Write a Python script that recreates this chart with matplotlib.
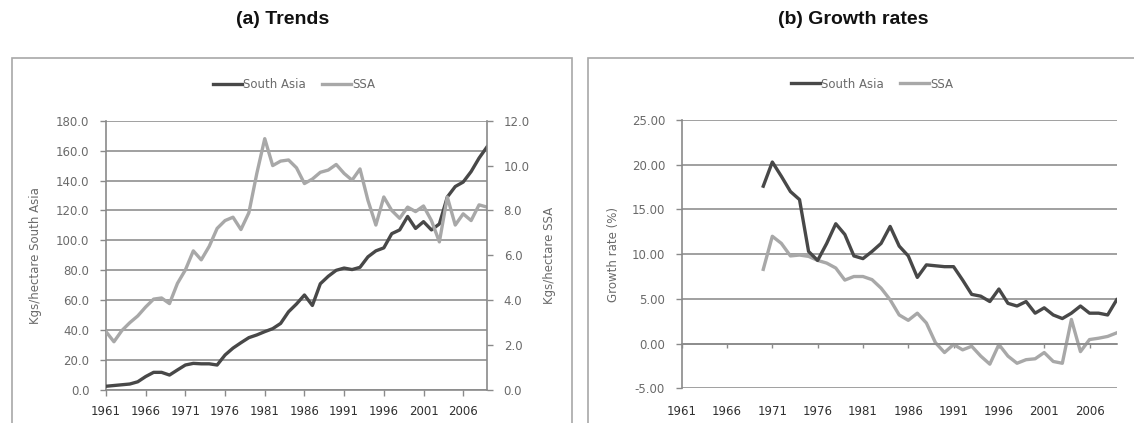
import numpy as np
import matplotlib

matplotlib.use("Agg")
import matplotlib.pyplot as plt
from matplotlib.patches import Rectangle
from matplotlib.ticker import FormatStrFormatter, MultipleLocator

# fertiliser use, kg per hectare
years = np.arange(1961, 2010)
south_asia_kgs = [
    2.5, 3.0, 3.5, 4.0, 5.5, 9.0, 11.8, 11.8, 10.0, 13.4,
    16.7, 17.8, 17.5, 17.5, 16.7, 23.4, 28.0, 31.6, 35.0, 36.8,
    39.0, 41.0, 44.5, 52.3, 57.5, 63.5, 56.5, 71.0, 76.0, 80.0,
    81.5, 80.5, 82.0, 89.0, 93.0, 95.0, 104.5, 107.0, 116.0, 108.0,
    112.5, 107.0, 111.0, 129.0, 136.0, 139.0, 146.0, 155.0, 162.5,
]
ssa_kgs = [
    2.6, 2.15, 2.65, 3.0, 3.3, 3.7, 4.05, 4.1, 3.85, 4.75,
    5.35, 6.2, 5.8, 6.4, 7.2, 7.55, 7.7, 7.15, 7.9, 9.65,
    11.2, 10.0, 10.2, 10.25, 9.9, 9.2, 9.4, 9.7, 9.8, 10.05,
    9.65, 9.35, 9.85, 8.45, 7.35, 8.6, 8.0, 7.65, 8.15, 7.95,
    8.2, 7.55, 6.6, 8.6, 7.35, 7.85, 7.55, 8.25, 8.15,
]

# growth rates (%), first available 1970
growth_years = np.arange(1970, 2010)
south_asia_growth = [
    17.6, 20.3, 18.7, 17.0, 16.1, 10.3, 9.3, 11.2, 13.4, 12.2,
    9.8, 9.5, 10.3, 11.2, 13.1, 10.9, 9.8, 7.4, 8.8, 8.7,
    8.6, 8.6, 7.1, 5.5, 5.3, 4.7, 6.1, 4.5, 4.2, 4.7,
    3.4, 4.0, 3.2, 2.8, 3.4, 4.2, 3.4, 3.4, 3.2, 4.9,
]
ssa_growth = [
    8.3, 12.0, 11.2, 9.8, 9.9, 9.75, 9.3, 9.0, 8.45, 7.1,
    7.5, 7.5, 7.15, 6.2, 4.9, 3.2, 2.6, 3.4, 2.3, 0.1,
    -1.0, -0.1, -0.7, -0.3, -1.4, -2.3, -0.1, -1.4, -2.2, -1.8,
    -1.7, -1.0, -2.0, -2.2, 2.7, -0.9, 0.45, 0.6, 0.8, 1.2,
]

year_ticks = np.arange(1961, 2010, 5)

DARK = "#484848"
LIGHT = "#a8a8a8"
GRID = "#a0a0a0"
TEXT = "#6a6a6a"
YEAR_TEXT = "#303030"
LW = 2.4
FS = 8.5

plt.rcParams["font.family"] = ["DejaVu Sans"]
plt.rcParams["font.size"] = FS

fig = plt.figure(figsize=(11.34, 4.23), dpi=100)
W, H = 1134, 423


def px_box(x0, y0, x1, y1):
    return [x0 / W, 1 - y1 / H, (x1 - x0) / W, (y1 - y0) / H]


# panel frames
for x0, x1 in [(12, 572), (588, 1160)]:
    fig.patches.append(Rectangle((x0 / W, -0.1), (x1 - x0) / W, 1 - 58 / H + 0.1,
                                 transform=fig.transFigure, fill=False,
                                 edgecolor="#a8a8a8", linewidth=1.2))

title_font = dict(family=["Liberation Sans Narrow", "Liberation Sans"], weight="bold",
                  size=14, color="#111111")
fig.text(283 / W, 1 - 19 / H, "(a) Trends", ha="center", va="center", **title_font)
fig.text(853 / W, 1 - 19 / H, "(b) Growth rates", ha="center", va="center", **title_font)


def style_axis(ax):
    ax.tick_params(colors="#8a8a8a", labelcolor=TEXT, width=1, length=4)
    ax.tick_params(axis="x", labelcolor=YEAR_TEXT)
    for side in ["top", "right"]:
        ax.spines[side].set_visible(False)
    for side in ["left", "bottom"]:
        ax.spines[side].set_color("#8a8a8a")
        ax.spines[side].set_linewidth(1.2)
    ax.set_xticks(year_ticks)
    ax.set_xticklabels([str(y) for y in year_ticks])
    ax.grid(axis="y", color=GRID, linewidth=1.4)
    ax.set_axisbelow(True)


# (a) trends
ax1 = fig.add_axes(px_box(106, 120.7, 487, 390))
style_axis(ax1)
ax1.plot(years, south_asia_kgs, color=DARK, linewidth=LW, label="South Asia",
         solid_joinstyle="round", zorder=3)
ax1.set_xlim(1961, 2009)
ax1.set_ylim(0, 180)
ax1.yaxis.set_major_locator(MultipleLocator(20))
ax1.yaxis.set_major_formatter(FormatStrFormatter("%.1f"))
ax1.tick_params(axis="y", pad=8)
ax1.tick_params(axis="x", pad=7)
ax1.set_ylabel("Kgs/hectare South Asia", color=TEXT)
ax1.yaxis.set_label_coords(-0.168, 0.5)

ax1r = ax1.twinx()
ax1r.plot(years, ssa_kgs, color=LIGHT, linewidth=LW, label="SSA",
          solid_joinstyle="round", zorder=2)
ax1r.set_ylim(0, 12)
ax1r.yaxis.set_major_locator(MultipleLocator(2))
ax1r.yaxis.set_major_formatter(FormatStrFormatter("%.1f"))
for side in ["top", "left", "bottom"]:
    ax1r.spines[side].set_visible(False)
ax1r.spines["right"].set_color("#8a8a8a")
ax1r.spines["right"].set_linewidth(1.2)
ax1r.tick_params(colors="#8a8a8a", labelcolor=TEXT, width=1, length=4, pad=8)
ax1r.set_ylabel("Kgs/hectare SSA", color=TEXT)
ax1r.yaxis.set_label_coords(1.147, 0.5)

h1, l1 = ax1.get_legend_handles_labels()
h2, l2 = ax1r.get_legend_handles_labels()
fig.legend(h1 + h2, l1 + l2, loc="center", bbox_to_anchor=(294 / W, 1 - 85 / H),
           ncol=2, frameon=False, handlelength=2.5, handletextpad=0.1,
           columnspacing=1.3, labelcolor=TEXT, fontsize=FS)

# (b) growth rates
ax2 = fig.add_axes(px_box(681.7, 120, 1116.7, 388.3))
# category axis crosses at zero, labels stay at the bottom
ax2.spines["bottom"].set_position(("data", 0))
style_axis(ax2)
ax2.plot(growth_years, south_asia_growth, color=DARK, linewidth=LW, label="South Asia",
         solid_joinstyle="round", zorder=3)
ax2.plot(growth_years, ssa_growth, color=LIGHT, linewidth=LW, label="SSA",
         solid_joinstyle="round", zorder=2)
ax2.set_xlim(1961, 2009)
ax2.set_ylim(-5, 25)
ax2.yaxis.set_major_locator(MultipleLocator(5))
ax2.yaxis.set_major_formatter(FormatStrFormatter("%.2f"))
ax2.tick_params(axis="y", pad=8)
ax2.tick_params(axis="x", length=3, pad=41)
ax2.set_ylabel("Growth rate (%)", color=TEXT)
ax2.yaxis.set_label_coords(-0.142, 0.5)

fig.legend(*ax2.get_legend_handles_labels(), loc="center",
           bbox_to_anchor=(872 / W, 1 - 84 / H), ncol=2, frameon=False,
           handlelength=2.5, handletextpad=0.1, columnspacing=1.3,
           labelcolor=TEXT, fontsize=FS)

fig.savefig("out.png", dpi=100)
